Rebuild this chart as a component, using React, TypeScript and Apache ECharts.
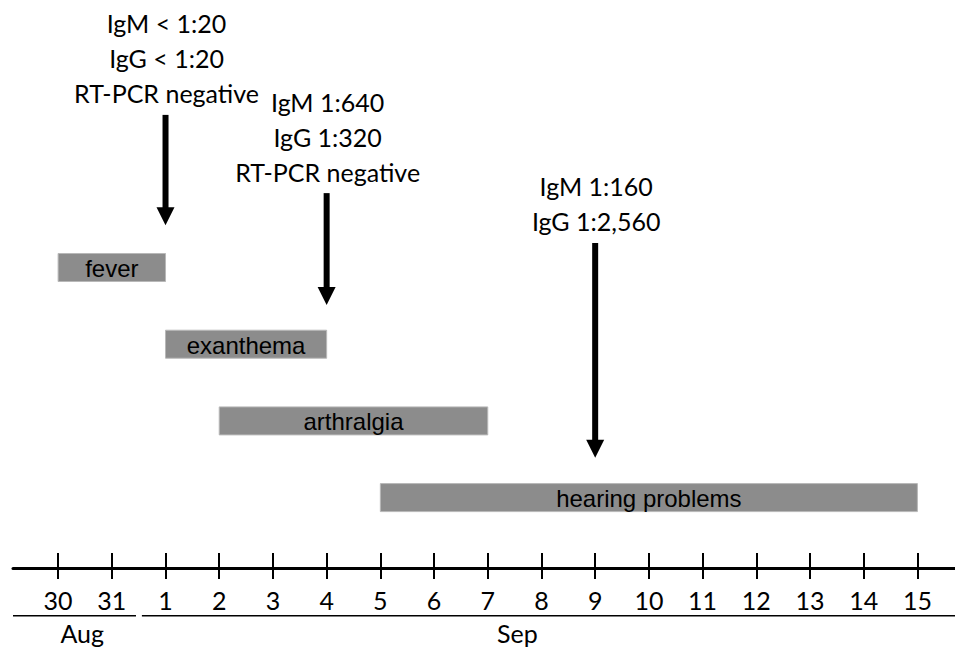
import React, { useEffect, useRef } from "react";
import * as echarts from "echarts";

// Timeline ticks (day index: Aug 30 = -1, Aug 31 = 0, Sep 1 = 1 ...)
const dayValues = [-1, 0, 1, 2, 3, 4, 5, 6, 7, 8, 9, 10, 11, 12, 13, 14, 15];
const dayLabels = ["30", "31", "1", "2", "3", "4", "5", "6", "7", "8", "9", "10", "11", "12", "13", "14", "15"];

// Months
const months = ["Aug", "Sep"];
const monthLabelAt = [-0.55, 7.55];
const monthStart = [-1.84, 0.56];
const monthEnd = [0.45, 15.7];

// Symptoms (rows top to bottom)
const symptoms = ["fever", "exanthema", "arthralgia", "hearing problems"];
const symptomStart = [-1, 1, 2, 5];
const symptomEnd = [1, 4, 7, 15];

// Laboratory tests (arrows)
const testDays = [1, 4, 9];
const testLabels = [
  "IgM < 1:20\nIgG < 1:20\nRT-PCR negative",
  "IgM 1:640\nIgG 1:320\nRT-PCR negative",
  "IgM 1:160\nIgG 1:2,560",
];
const arrowFromRow = [-1.99, -0.97, -0.32];
const arrowToRow = [-0.55, 0.49, 2.48];

const X_MIN = -1.84;
const X_MAX = 15.7;
const Y_MIN = -3.488;
const Y_MAX = 3.918;
const BRACKET_ROW = 4.54;

export default function App() {
  const ref = useRef<HTMLDivElement>(null);
  useEffect(() => {
    if (!ref.current) return;
    const chart = echarts.init(ref.current, undefined, { renderer: "svg" });
    const baseX = {
      type: "value",
      min: X_MIN,
      max: X_MAX,
      position: "bottom",
      offset: 0,
      splitLine: { show: false },
    };
    const option: any = {
      animation: false,
      backgroundColor: "#ffffff",
      grid: { left: 13, right: 0, top: 0, bottom: 79, outerBoundsMode: "none", containLabel: false },
      xAxis: [
        {
          ...baseX,
          axisLine: { show: true, onZero: false, lineStyle: { color: "#000", width: 3 } },
          axisTick: { show: true, inside: true, length: 15, customValues: dayValues, lineStyle: { color: "#000", width: 2 } },
          axisLabel: {
            show: true,
            customValues: dayValues,
            margin: 19,
            fontFamily: "Lato",
            fontSize: 25,
            color: "#000",
            formatter: (v: number) => {
              const i = dayValues.indexOf(Math.round(v));
              return i >= 0 ? dayLabels[i] : "";
            },
          },
        },
        {
          ...baseX,
          axisLine: { show: false, onZero: false },
          axisTick: { show: true, inside: false, length: 11, customValues: dayValues, lineStyle: { color: "#000", width: 2 } },
          axisLabel: { show: false },
        },
        {
          ...baseX,
          axisLine: { show: false, onZero: false },
          axisTick: { show: false },
          axisLabel: {
            show: true,
            customValues: monthLabelAt,
            margin: 53,
            fontFamily: "Lato",
            fontSize: 25,
            lineHeight: 24,
            color: "#000",
            formatter: (v: number) => {
              const i = monthLabelAt.findIndex((m) => Math.abs(m - v) < 1e-6);
              return i >= 0 ? months[i] : "";
            },
          },
        },
      ],
      yAxis: { type: "value", min: Y_MIN, max: Y_MAX, inverse: true, show: false },
      series: [
        {
          type: "custom",
          xAxisIndex: 0,
          clip: false,
          data: symptoms.map((_, i) => [symptomStart[i], symptomEnd[i], i]),
          renderItem: (params: any, api: any) => {
            const s = api.coord([api.value(0), api.value(2)]);
            const e = api.coord([api.value(1), api.value(2)]);
            return {
              type: "group",
              children: [
                {
                  type: "rect",
                  shape: { x: s[0], y: s[1] - 14, width: e[0] - s[0], height: 28 },
                  style: { fill: "#8c8c8c", stroke: "#b8b8b8", lineWidth: 1 },
                },
                {
                  type: "text",
                  x: (s[0] + e[0]) / 2,
                  y: s[1] + 1,
                  style: {
                    text: symptoms[params.dataIndex],
                    align: "center",
                    verticalAlign: "middle",
                    fontFamily: "Liberation Sans, Arial",
                    fontSize: 24,
                    fill: "#000",
                  },
                },
              ],
            };
          },
        },
        {
          type: "custom",
          xAxisIndex: 0,
          clip: false,
          data: testDays.map((d, i) => [d, arrowFromRow[i], arrowToRow[i]]),
          renderItem: (params: any, api: any) => {
            const top = api.coord([api.value(0), api.value(1)]);
            const tip = api.coord([api.value(0), api.value(2)]);
            const x = top[0];
            return {
              type: "group",
              children: [
                {
                  type: "line",
                  shape: { x1: x, y1: top[1], x2: x, y2: tip[1] - 16 },
                  style: { stroke: "#000", lineWidth: 6 },
                },
                {
                  type: "polygon",
                  shape: { points: [[x - 9, tip[1] - 18], [x + 9, tip[1] - 18], [x, tip[1]]] },
                  style: { fill: "#000" },
                },
                {
                  type: "text",
                  x: x + 1,
                  y: top[1] - 4,
                  style: {
                    text: testLabels[params.dataIndex],
                    align: "center",
                    verticalAlign: "bottom",
                    fontFamily: "Lato",
                    fontSize: 25,
                    lineHeight: 35,
                    fill: "#000",
                  },
                },
              ],
            };
          },
        },
        {
          type: "custom",
          xAxisIndex: 0,
          clip: false,
          data: months.map((_, i) => [monthStart[i], monthEnd[i]]),
          renderItem: (params: any, api: any) => {
            const s = api.coord([api.value(0), BRACKET_ROW]);
            const e = api.coord([api.value(1), BRACKET_ROW]);
            return {
              type: "line",
              shape: { x1: s[0], y1: s[1], x2: e[0], y2: e[1] },
              style: { stroke: "#000", lineWidth: 1.5 },
            };
          },
        },
      ],
    };
    chart.setOption(option);
    return () => chart.dispose();
  }, []);
  return (
    <div
      ref={ref}
      style={{ position: "fixed", left: 0, top: 0, width: 955, height: 647, background: "#fff" }}
    />
  );
}
